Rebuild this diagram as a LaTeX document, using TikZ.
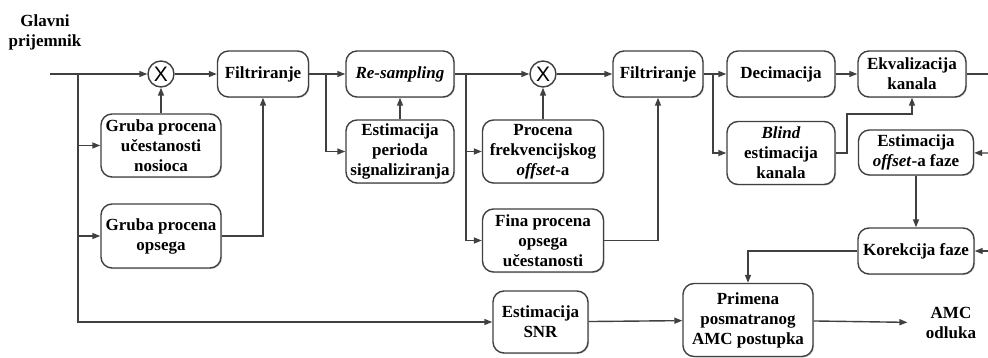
\documentclass[tikz,border=0pt]{standalone}
\usepackage{fontspec}
\setmainfont{Liberation Serif}
\setsansfont{Liberation Sans}
\usetikzlibrary{arrows.meta,shadows}
\definecolor{linija}{RGB}{64,64,64}
\tikzstyle{blok}=[draw=linija,line width=1.4pt,rounded corners=11pt,
                  fill=white,align=center,inner sep=1pt,
                  font=\fontsize{17}{20}\selectfont\bfseries,
                  drop shadow={shadow xshift=1pt,shadow yshift=-1pt,
                               fill=black!30,opacity=0.6}]
\tikzstyle{mikser}=[circle,draw=linija,line width=1.4pt,fill=white,
                    inner sep=0pt,minimum size=26pt,
                    font=\sffamily\fontsize{21}{21}\selectfont]
\tikzstyle{tekst}=[align=center,font=\fontsize{17}{20}\selectfont\bfseries]
\tikzstyle{veza}=[draw=linija,line width=1.4pt]
\tikzstyle{strel}=[veza,-{Triangle[length=8pt,width=6pt]}]

\begin{document}
\begin{tikzpicture}[x=1pt,y=-1pt]
    \useasboundingbox (0,0) rectangle (988,358);
    % gornja grana
    \node (prijem) at (45,32) [tekst]{Glavni\\prijemnik};
    \node (mix1) at (161,74) [mikser]{X};
    \node (filt1) at (263,74) [blok,minimum width=91pt,minimum height=46pt]{Filtriranje};
    \node (grubaNos) at (161,145.5) [blok,minimum width=120pt,minimum height=63pt]
          {Gruba procena\\u\v{c}estanosti\\nosioca};
    \node (grubaOps) at (161,236) [blok,minimum width=120pt,minimum height=64pt]
          {Gruba procena\\opsega};
    \node (resamp) at (400,74) [blok,minimum width=108pt,minimum height=46pt]
          {\textit{Re-sampling}};
    \node (perioda) at (400,151.5) [blok,minimum width=108pt,minimum height=63pt]
          {Estimacija\\perioda\\signaliziranja};
    \node (mix2) at (543,74) [mikser]{X};
    \node (procFrek) at (543,151.5) [blok,minimum width=121pt,minimum height=63pt]
          {Procena\\frekvencijskog\\\textit{offset}-a};
    \node (finaOps) at (543,240.5) [blok,minimum width=121pt,minimum height=63pt]
          {Fina procena\\opsega\\u\v{c}estanosti};
    \node (filt2) at (658,74) [blok,minimum width=90pt,minimum height=46pt]{Filtriranje};
    \node (decim) at (781,74) [blok,minimum width=108pt,minimum height=46pt]{Decimacija};
    \node (ekval) at (912,74) [blok,minimum width=108pt,minimum height=46pt]
          {Ekvalizacija\\kanala};
    \node (blind) at (781,153) [blok,minimum width=108pt,minimum height=63pt]
          {\textit{Blind}\\estimacija\\kanala};
    \node (offFaze) at (916,152.5) [blok,minimum width=115pt,minimum height=45pt]
          {Estimacija\\\textit{offset}-a faze};
    \node (korFaze) at (916,251) [blok,minimum width=116pt,minimum height=46pt]
          {Korekcija faze};
    % donja grana
    \node (snr) at (540.5,322) [blok,minimum width=95pt,minimum height=62pt]
          {Estimacija\\SNR};
    \node (primena) at (748,320) [blok,minimum width=130pt,minimum height=73pt]
          {Primena\\posmatranog\\AMC postupka};
    \node (odluka) at (951,323) [tekst]{AMC\\odluka};

    \coordinate (ulaz) at (50,74);
    \coordinate (ogr1) at (78,74);
    \coordinate (ogr2) at (326,74);
    \coordinate (ogr3) at (466,74);
    \coordinate (ogr4) at (713,74);
    \coordinate (pregib) at (847,114);
    \coordinate (izlaz) at (988,74);
    \coordinate (povr1) at (988,153);
    \coordinate (povr2) at (988,251);

    \draw[strel] (ulaz) -- (mix1);
    \draw[strel] (ogr1) |- (grubaNos);
    \draw[strel] (ogr1) |- (grubaOps);
    \draw[strel] (ogr1) |- (snr);
    \draw[strel] (grubaNos) -- (mix1);
    \draw[strel] (mix1) -- (filt1);
    \draw[strel] (grubaOps.east) -| (filt1.south);
    \draw[strel] (filt1) -- (resamp);
    \draw[strel] (ogr2) |- (perioda);
    \draw[strel] (perioda) -- (resamp);
    \draw[strel] (resamp) -- (mix2);
    \draw[strel] (ogr3) |- (procFrek);
    \draw[strel] (ogr3) |- (finaOps);
    \draw[strel] (procFrek) -- (mix2);
    \draw[strel] (mix2) -- (filt2);
    \draw[strel] (finaOps.east) -| (filt2.south);
    \draw[strel] (filt2) -- (decim);
    \draw[strel] (ogr4) |- (blind);
    \draw[strel] (decim) -- (ekval);
    \draw[strel] (blind.east) -| (pregib) -| (ekval.south);
    \draw[veza] (ekval) -- (izlaz);
    \draw[strel] (povr1) -- (offFaze);
    \draw[strel] (offFaze) -- (korFaze);
    \draw[strel] (povr2) -- (korFaze);
    \draw[strel] (korFaze.west) -| (primena.north);
    \draw[strel] (snr) -- (primena);
    \draw[strel,shorten >=15pt] (primena) -- (odluka);
  \end{tikzpicture}
\end{document}
